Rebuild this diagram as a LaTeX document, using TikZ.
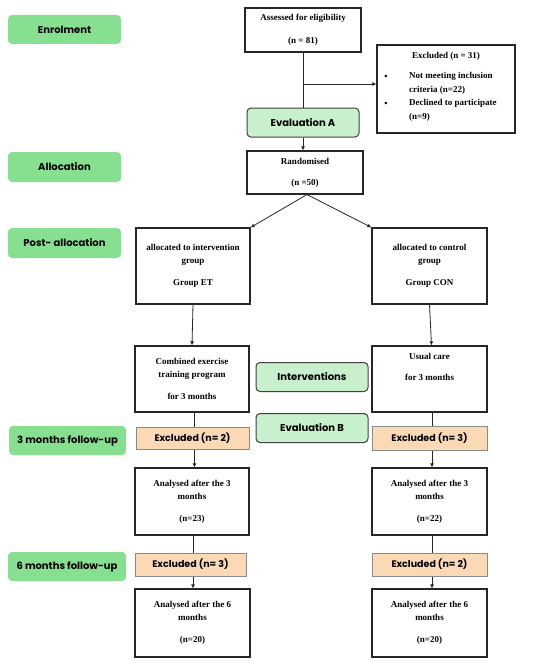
\documentclass[tikz,border=0pt]{standalone}
\usepackage{fontspec}
\setmainfont{Liberation Serif}
\newfontfamily\labfont{Poppins}
\usetikzlibrary{arrows.meta}
\definecolor{labgreen}{HTML}{86E08F}
\definecolor{evalgreen}{HTML}{C8F0CC}
\definecolor{peach}{HTML}{FAD9B4}
\definecolor{peachborder}{HTML}{8A8A8A}
\definecolor{evalborder}{HTML}{404040}
\begin{document}
\begin{tikzpicture}[x=1pt,y=-1pt,
  box/.style={draw=black!85, line width=1.1pt, fill=white, align=center, inner sep=0pt,
    font=\bfseries\fontsize{9}{13}\selectfont},
  lab/.style={fill=labgreen, rounded corners=4pt, inner sep=0pt,
    font=\labfont\bfseries\fontsize{10}{12}\selectfont},
  evalbox/.style={draw=evalborder, line width=1pt, fill=evalgreen, rounded corners=4pt, inner sep=0pt,
    minimum width=112pt, minimum height=29pt, font=\labfont\bfseries\fontsize{10}{12}\selectfont},
  exbox/.style={draw=peachborder, line width=1pt, fill=peach, inner sep=0pt,
    font=\labfont\bfseries\fontsize{9.5}{12}\selectfont},
  conn/.style={line width=0.8pt, draw=black!85},
  arr/.style={conn, -{Latex[length=4pt,width=4pt]}},
  txt/.style={inner sep=0pt, align=left, font=\bfseries\fontsize{9}{13.5}\selectfont}
]
\useasboundingbox (0,0) rectangle (550,669);
\fill[white] (0,0) rectangle (550,669);

% stage labels
\node[lab, minimum width=113pt, minimum height=29pt] (enrol) at (64.5,29.5) {Enrolment};
\node[lab, minimum width=113pt, minimum height=30pt] (alloc) at (64.5,167) {Allocation};
\node[lab, minimum width=113pt, minimum height=30pt] (post) at (64.5,243) {Post- allocation};
\node[lab, minimum width=117pt, minimum height=29pt] (fu3) at (67.5,440.5) {3 months follow-up};
\node[lab, minimum width=118pt, minimum height=29pt] (fu6) at (67,566.5) {6 months follow-up};

% main column
\node[box, minimum width=116pt, minimum height=44pt] (assess) at (303,30) {Assessed for eligibility\\[10pt](n = 81)};
\node[box, minimum width=138pt, minimum height=88pt] (excl) at (446,89) {};
\node[txt, anchor=center] (exclt) at (446,56) {Excluded (n = 31)};
\node[txt] (b1) at (386,77) {\textbullet};
\node[txt] (b2) at (386,104) {\textbullet};
\node[txt, anchor=west] (e1) at (409,83.5) {Not meeting inclusion\\criteria (n=22)};
\node[txt, anchor=west] (e2) at (409,110.5) {Declined to participate\\(n=9)};
\node[evalbox] (evalA) at (303,122.5) {Evaluation A};
\node[box, minimum width=116pt, minimum height=43pt] (rand) at (305,172.5) {Randomised\\[8pt](n =50)};

% arms
\node[box, minimum width=114pt, minimum height=76pt] (allocI) at (193,266) {allocated to intervention\\group\\[9pt]Group ET};
\node[box, minimum width=115pt, minimum height=76pt] (allocC) at (429.5,266) {allocated to control\\group\\[9pt]Group CON};
\node[box, minimum width=114pt, minimum height=66pt] (comb) at (192,379) {Combined exercise\\training program\\[9pt]for 3 months};
\node[box, minimum width=115pt, minimum height=66pt] (usual) at (429.5,379) {Usual care\\[8pt]for 3 months\\[12pt]};
\node[evalbox] (interv) at (312,377) {Interventions};
\node[evalbox] (evalB) at (312,428) {Evaluation B};
\node[exbox, minimum width=113pt, minimum height=22pt] (ex2L) at (192.5,438) {Excluded (n= 2)};
\node[exbox, minimum width=115pt, minimum height=24pt] (ex3R) at (429.5,438) {Excluded (n= 3)};
\node[box, minimum width=114pt, minimum height=67pt] (an3L) at (192,501.5) {Analysed after the 3\\months\\[9pt](n=23)};
\node[box, minimum width=115pt, minimum height=67pt] (an3R) at (429.5,501.5) {Analysed after the 3\\months\\[9pt](n=22)};
\node[exbox, minimum width=111pt, minimum height=23pt] (ex3L) at (190.5,564.5) {Excluded (n= 3)};
\node[exbox, minimum width=115pt, minimum height=23pt] (ex2R) at (429.5,564.5) {Excluded (n= 2)};
\node[box, minimum width=115pt, minimum height=68pt] (an6L) at (192.5,623) {Analysed after the 6\\months\\[9pt](n=20)};
\node[box, minimum width=115pt, minimum height=68pt] (an6R) at (429.5,623) {Analysed after the 6\\months\\[9pt](n=20)};

% connectors
\coordinate (br) at (303,84);
\draw[conn] (assess.south) -- (evalA.north);
\draw[arr] (br) -- (br -| excl.west);
\draw[arr] (evalA.south) -- (evalA.south |- rand.north);
\draw[arr] (rand.south) ++(2,0) coordinate (rs) -- (allocI.north east);
\draw[arr] (rs) -- (allocC.north west);
\draw[arr] (allocI.south) -- (comb.north);
\draw[arr] (allocC.south) -- ([xshift=2pt]usual.north);
\draw[conn] ([xshift=2.5pt]comb.south) -- ([xshift=2.5pt]comb.south |- ex2L.north);
\draw[arr] ([xshift=2.5pt]comb.south |- ex2L.south) -- ([xshift=2.5pt]comb.south |- an3L.north);
\draw[conn] ([xshift=2.5pt]usual.south) -- ([xshift=2.5pt]usual.south |- ex3R.north);
\draw[arr] ([xshift=2.5pt]usual.south |- ex3R.south) -- ([xshift=2.5pt]usual.south |- an3R.north);
\draw[conn] ([xshift=1pt]an3L.south) -- ([xshift=1pt]an3L.south |- ex3L.north);
\draw[arr] ([xshift=1pt]an3L.south |- ex3L.south) -- ([xshift=1pt]an3L.south |- an6L.north);
\draw[conn] ([xshift=2.5pt]an3R.south) -- ([xshift=2.5pt]an3R.south |- ex2R.north);
\draw[arr] ([xshift=2.5pt]an3R.south |- ex2R.south) -- ([xshift=2.5pt]an3R.south |- an6R.north);
\end{tikzpicture}
\end{document}
